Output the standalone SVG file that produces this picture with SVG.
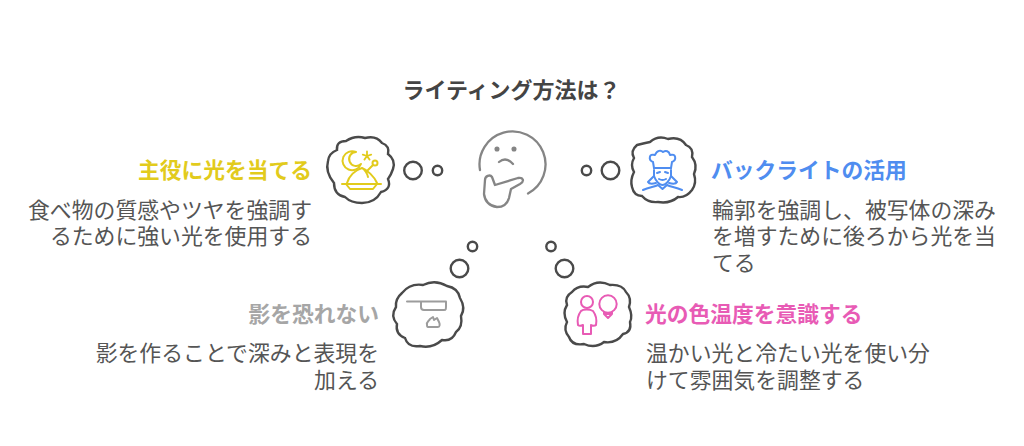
<svg xmlns="http://www.w3.org/2000/svg" width="1024" height="446" viewBox="0 0 1024 446">
<style>
text{font-family:"Noto Sans CJK JP","Noto Sans",sans-serif}
.t{font-size:21.85px;fill:#555;font-weight:400}
.h{font-size:21.75px;font-weight:700}
.c,.b{fill:none;stroke:#4a4a4a;stroke-width:2.4}
.i{fill:none;stroke-width:2;stroke-linecap:round;stroke-linejoin:round}
</style>
<rect width="1024" height="446" fill="#fff"/>
<text x="511.500" y="97.500" text-anchor="middle" font-size="22" font-weight="700" fill="#444">ライティング方法は？</text>
<g id="connectors">
<circle class="b" cx="413" cy="170.500" r="8.800"/><circle class="b" cx="437.500" cy="170.500" r="4.700"/>
<circle class="b" cx="610.500" cy="170.500" r="8.800"/><circle class="b" cx="586.500" cy="170.500" r="4.700"/>
<circle class="b" cx="459.500" cy="268.500" r="8.800"/><circle class="b" cx="472.500" cy="246.500" r="4.700"/>
<circle class="b" cx="564.500" cy="268.500" r="8.800"/><circle class="b" cx="551" cy="246.500" r="4.700"/>
</g>
<g id="thinker" class="i" stroke="#858585" style="stroke-width:2.300">
<path d="M480 170A33 33 0 1 1 528 193.500"/>
<path d="M485 180C485 176 490 174 492 177L495 185L518 178C523 177 525 181 520 184L511 189L509 198C507 205 503 207 497 207C490 206 485 202 484 194Z"/>
<circle cx="497" cy="149" r="1.400" fill="#858585"/><circle cx="514" cy="149" r="1.400" fill="#858585"/>
<path d="M499 162Q506 156 513 164"/>
</g>
<g id="node-main">
<path class="c" d="M337 150Q336 141 346 141Q355 135 365 138Q376 135 382 143Q390 146 388 154Q396 160 393 169Q391 175 388 179Q392 189 381 192Q375 203 362 203Q351 203 345 197Q334 195 334 183Q325 172 328 161Q329 153 337 150Z"/>
<g class="i" stroke="#e2cb1c">
<path d="M356 152A9.500 9.500 0 1 0 361 164A7 7 0 1 1 356 152Z"/>
<path d="M367 151.500V156M367 156L362.800 154.600M367 156L371.200 154.600M367 156L364.400 159.600M367 156L369.600 159.600" stroke-width="1.800"/>
<path d="M342 184H381M346 184L350 189H373L377 184M347 183C349 176 355 170 362 168C367 170 374 176 377 183M362 168C365 170 367 173 368 177M368 170L373 165"/>
<circle cx="375" cy="163" r="2.500"/>
</g>
</g>
<g id="node-back">
<path class="c" d="M637 145Q645 143 650 142Q658 135 668 139Q680 136 686 145Q694 148 692 157Q698 165 694 174Q697 183 692 190Q686 198 678 197Q670 204 658 202Q648 203 642 196Q634 196 632 187Q630 180 634 172Q630 165 634 158Q630 151 637 145Z"/>
<g class="i" stroke="#4f8df0">
<path d="M654 168L653 162C648 160 649 153 655 155C657 150 661 150 663 152C666 150 669 151 670 155C676 153 677 160 672 162L671 168Z"/>
<path d="M654 168H671M654 170V176C656 182 660 185 662.500 185C665 185 669 182 671 176V170"/>
<path d="M657 173L660 172M665 172L668 173M659 179Q662.500 181 666 179"/>
<path d="M654 176L648 182C649 184 652 184 656 183M671 176L677 182C676 184 673 184 669 183"/>
<path d="M643 190C649 187 654 187 658 185L662.500 189L667 185C671 187 676 187 682 190"/>
</g>
</g>
<g id="node-shadow">
<path class="c" d="M402 293Q410 283 423 285Q435 279 447 286Q458 288 460 298Q466 308 461 316Q463 327 456 332Q452 342 442 340Q432 349 420 346Q408 348 405 338Q395 334 397 324Q390 316 396 307Q395 299 402 293Z"/>
<g class="i" stroke="#9c9c9c">
<path d="M407 301.500H446M421 302V307C421 309 422 310 424 310H444C446 310 446 309 446 306V302"/>
<path d="M427 325C426 322 429 321 430 319L433 317L434 320L437 318L439 322C440 324 440 327 438 327H428C427 327 427 326 427 325Z"/>
</g>
</g>
<g id="node-color">
<path class="c" d="M572 292Q578 285 588 287Q598 279 610 285Q622 284 626 292Q632 298 629 307Q633 316 630 322Q632 332 623 334Q616 344 604 342Q595 349 584 344Q572 346 569 337Q563 330 567 322Q562 313 567 305Q564 297 572 292Z"/>
<g class="i" stroke="#e85bb5">
<circle cx="587" cy="302" r="6"/>
<path d="M581 311C583 309 590 309 593 311C596 315 597 320 596 325C595 326 592 326 591 325V334H583V325C581 326 579 326 578 325C577 320 578 315 581 311Z"/>
<circle cx="608" cy="304" r="8.700"/>
<path d="M604 312V314L608 318L612 314V312M604 314H612"/>
</g>
</g>
<g id="label-main">
<text class="h" x="312" y="177.500" text-anchor="end" fill="#e2cb1c">主役に光を当てる</text>
<text class="t" text-anchor="end"><tspan x="312" y="217.500">食べ物の質感やツヤを強調す</tspan><tspan x="312" y="244">るために強い光を使用する</tspan></text>
</g>
<g id="label-back">
<text class="h" x="711" y="177.500" fill="#4f8df0">バックライトの活用</text>
<text class="t"><tspan x="712" y="217.500">輪郭を強調し、被写体の深み</tspan><tspan x="712" y="244">を増すために後ろから光を当</tspan><tspan x="712" y="270.500">てる</tspan></text>
</g>
<g id="label-shadow">
<text class="h" x="379" y="321.500" text-anchor="end" fill="#a6a6a6">影を恐れない</text>
<text class="t" text-anchor="end"><tspan x="379" y="361">影を作ることで深みと表現を</tspan><tspan x="379" y="387.500">加える</tspan></text>
</g>
<g id="label-color">
<text class="h" x="645" y="321.500" fill="#e85bb5">光の色温度を意識する</text>
<text class="t"><tspan x="646" y="361">温かい光と冷たい光を使い分</tspan><tspan x="646" y="387.500">けて雰囲気を調整する</tspan></text>
</g>
</svg>
